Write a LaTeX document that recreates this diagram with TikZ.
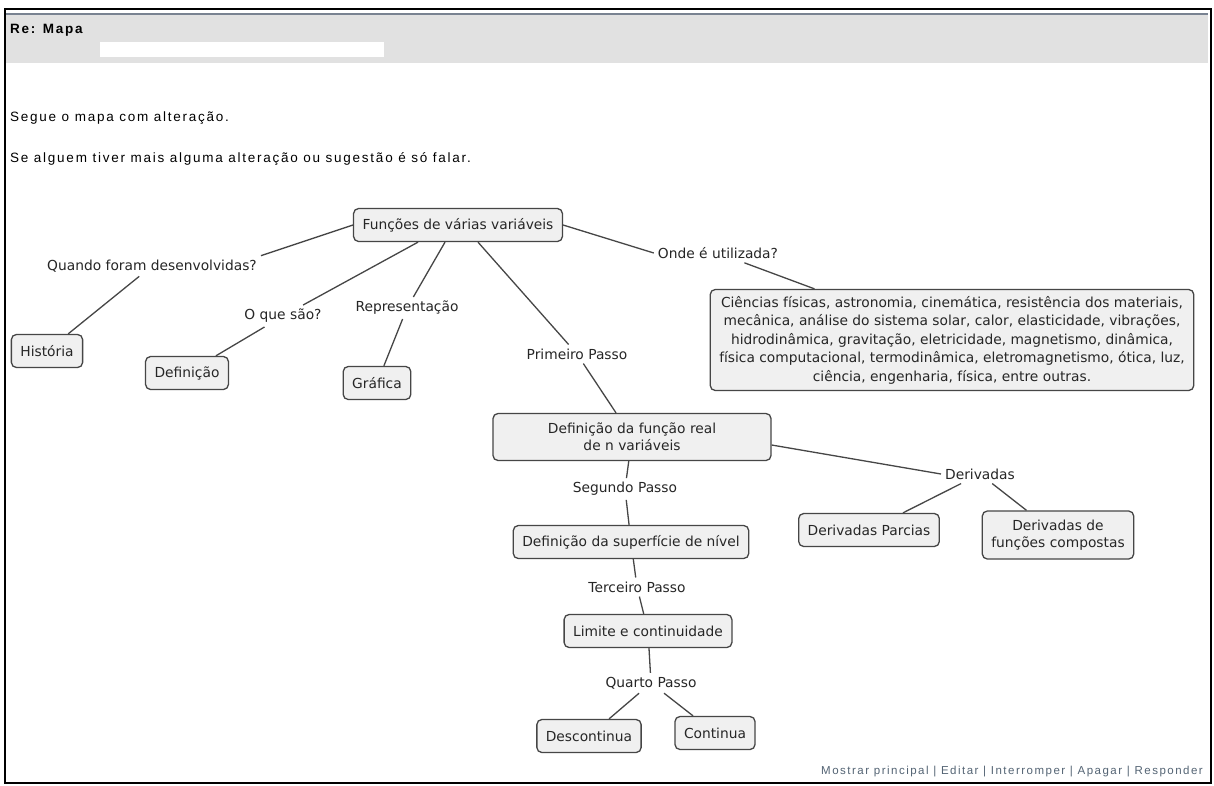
\documentclass[tikz,border=0pt]{standalone}
\usepackage{fontspec}
\setmainfont{DejaVu Sans}
\newfontfamily\mailfont[LetterSpace=13]{Liberation Sans}
\usepackage{tikz}
\usetikzlibrary{positioning}
\definecolor{hdrgray}{RGB}{225,225,225}
\definecolor{hdrline}{RGB}{120,130,145}
\definecolor{boxfill}{RGB}{240,240,240}
\definecolor{edgegray}{RGB}{70,70,70}
\definecolor{linkblue}{RGB}{84,100,116}

\begin{document}
\begin{tikzpicture}[x=1pt,y=-1pt,
	block/.style={rounded corners=5pt, draw=edgegray, line width=1.3pt, fill=boxfill, align=center, inner xsep=9pt, minimum height=33pt, text=black!85, font=\fontsize{13.8}{17}\selectfont},
	lbl/.style={align=center, inner sep=4pt, text=black!85, font=\fontsize{13.8}{17}\selectfont},
	link/.style={draw=edgegray, line width=1.3pt},
	mail/.style={anchor=west, inner sep=0pt, font=\mailfont\fontsize{13.5}{15}\selectfont}
	]
	\useasboundingbox (0,0) rectangle (1214,785);
	\fill[white] (0,0) rectangle (1214,785);
	\fill[hdrgray] (6,14) rectangle (1208,63);
	\fill[white] (100,42) rectangle (384,57);
	\draw[hdrline, line width=1.5pt] (6,14) -- (1208,14);
	\draw[line width=2pt] (5,9) rectangle (1211,783);

	\node[mail, font=\mailfont\bfseries\fontsize{13.5}{15}\selectfont] (subj) at (10,30) {Re: Mapa};
	\node[mail] (msg1) at (10,118) {Segue o mapa com alteração.};
	\node[mail] (msg2) at (10,159) {Se alguem tiver mais alguma alteração ou sugestão é só falar.};
	\node[mail, anchor=east, text=linkblue, font=\mailfont\fontsize{11.5}{13}\selectfont] (menu) at (1203,772) {Mostrar principal | Editar | Interromper | Apagar | Responder};

	\node[block] (fun) at (458,225) {Funções de várias variáveis};
	\node[block] (hist) at (47,351) {História};
	\node[block] (defi) at (187,373) {Definição};
	\node[block] (graf) at (377,383) {Gráfica};
	\node[block, minimum height=101pt, font=\fontsize{13.8}{18.5}\selectfont] (apps) at (952,340) {Ciências físicas, astronomia, cinemática, resistência dos materiais,\\mecânica, análise do sistema solar, calor, elasticidade, vibrações,\\hidrodinâmica, gravitação, eletricidade, magnetismo, dinâmica,\\física computacional, termodinâmica, eletromagnetismo, ótica, luz,\\ciência, engenharia, física, entre outras.};
	\node[block, minimum width=278pt, minimum height=47pt] (real) at (632,437) {Definição da função real\\de n variáveis};
	\node[block] (nivel) at (631,542) {Definição da superfície de nível};
	\node[block] (parc) at (869,530) {Derivadas Parcias};
	\node[block, minimum height=48pt] (comp) at (1058,535) {Derivadas de\\funções compostas};
	\node[block] (lim) at (648,631) {Limite e continuidade};
	\node[block] (desc) at (589,736) {Descontinua};
	\node[block] (cont) at (715,733) {Continua};

	\node[lbl] (quando) at (152,266) {Quando foram desenvolvidas?};
	\node[lbl] (oque) at (283,316) {O que são?};
	\node[lbl] (repr) at (407,308) {Representação};
	\node[lbl] (passo1) at (577,354) {Primeiro Passo};
	\node[lbl] (onde) at (718,253) {Onde é utilizada?};
	\node[lbl] (passo2) at (625,489) {Segundo Passo};
	\node[lbl] (deriv) at (980,474) {Derivadas};
	\node[lbl] (passo3) at (637,587) {Terceiro Passo};
	\node[lbl] (passo4) at (651,683) {Quarto Passo};

	\draw[link] (fun.west) -- (quando.north east);
	\draw[link] (quando) -- (hist);
	\draw[link] ([xshift=-40pt]fun.south) -- (oque);
	\draw[link] (oque) -- (defi);
	\draw[link] ([xshift=-13pt]fun.south) -- (repr);
	\draw[link] (repr) -- (graf);
	\draw[link] ([xshift=20pt]fun.south) -- (passo1);
	\draw[link] (passo1) -- (real);
	\draw[link] (fun.east) -- (onde.west);
	\draw[link] (onde) -- (apps);
	\draw[link] (real) -- (passo2);
	\draw[link] (passo2) -- (nivel);
	\draw[link] ([yshift=-8pt]real.east) -- (deriv.west);
	\draw[link] (deriv) -- (parc);
	\draw[link] (deriv) -- (comp);
	\draw[link] (nivel) -- (passo3);
	\draw[link] (passo3) -- (lim);
	\draw[link] (lim) -- (passo4);
	\draw[link] (passo4) -- (desc);
	\draw[link] (passo4) -- (cont);
\end{tikzpicture}
\end{document}
